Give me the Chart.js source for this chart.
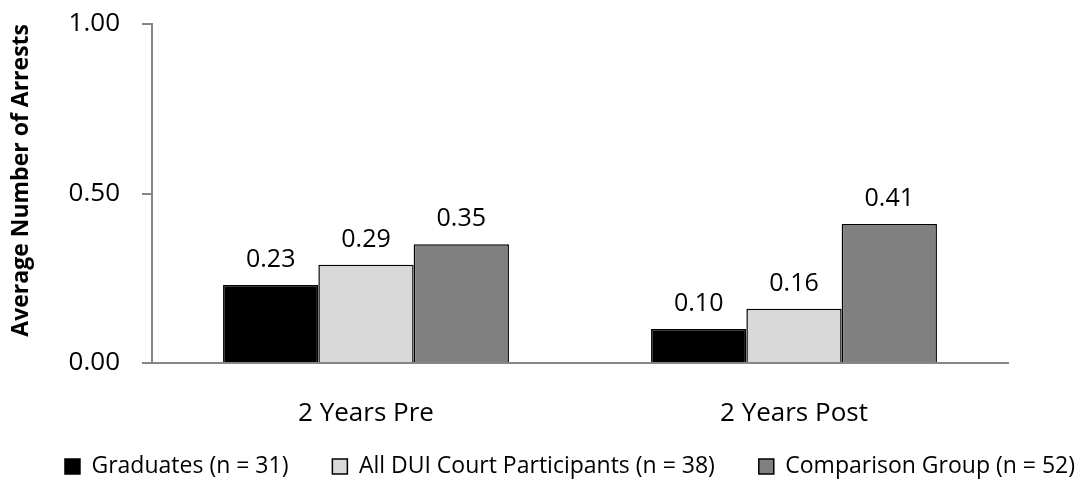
<!DOCTYPE html>
<html>
<head>
<style>
  body { margin: 0; background: #ffffff; }
</style>
<script src="https://cdn.jsdelivr.net/npm/chart.js@4/dist/chart.umd.min.js"></script>
<script type="text/javascript">

    var periods = ["2 Years Pre", "2 Years Post"];
    var seriesNames = ["Graduates (n = 31)", "All DUI Court Participants (n = 38)", "Comparison Group (n = 52)"];
    var graduates = [0.23, 0.10];
    var allParticipants = [0.29, 0.16];
    var comparison = [0.35, 0.41];
    var yTicks = [0, 0.5, 1];

    var barCol = ["#000000", "#d9d9d9", "#808080"];
    var fontName = "'Open Sans', sans-serif";

    // writes the value above every bar
    var valueLabels = {
        id: 'valueLabels',
        afterDatasetsDraw: function(chart) {
            var ctx = chart.ctx;
            ctx.save();
            ctx.font = "25px " + fontName;
            ctx.fillStyle = "#000000";
            ctx.textAlign = "center";
            ctx.textBaseline = "alphabetic";
            chart.data.datasets.forEach(function(ds, i) {
                chart.getDatasetMeta(i).data.forEach(function(bar, j) {
                    ctx.fillText(ds.data[j].toFixed(2), bar.x, bar.y - 18);
                });
            });
            ctx.restore();
        }
    };

    function drawChart()
    {
        var data = {
            labels: periods,
            datasets: [
                { label: seriesNames[0], data: graduates, backgroundColor: barCol[0], borderColor: "#000000", borderWidth: 1.5 },
                { label: seriesNames[1], data: allParticipants, backgroundColor: barCol[1], borderColor: "#000000", borderWidth: 1.5 },
                { label: seriesNames[2], data: comparison, backgroundColor: barCol[2], borderColor: "#000000", borderWidth: 1.5 }
            ]
        };

        var config = {
            type: 'bar',
            data: data,
            plugins: [valueLabels],
            options: {
                responsive: false,
                animation: false,
                layout: { padding: { top: 24, right: -61, bottom: 0, left: 0 } },
                datasets: { bar: { categoryPercentage: 0.668, barPercentage: 1.0 } },
                plugins: {
                    legend: {
                        position: 'bottom',
                        maxHeight: 53,
                        labels: {
                            boxWidth: 15,
                            boxHeight: 15,
                            padding: 26,
                            color: '#000000',
                            font: { family: fontName, size: 23 },
                            generateLabels: function(chart) {
                                var items = Chart.defaults.plugins.legend.labels.generateLabels(chart);
                                items.forEach(function(it, i) {
                                    if (i < items.length - 1) it.text = it.text + '\u00a0\u00a0\u00a0';
                                });
                                return items;
                            }
                        }
                    },
                    tooltip: { enabled: false }
                },
                scales: {
                    x: {
                        grid: { display: false, drawTicks: false },
                        border: { color: '#868686', width: 2 },
                        ticks: { padding: 35, color: '#000000', font: { family: fontName, size: 26 } },
                        afterFit: function(scale) { scale.height = 66; }
                    },
                    y: {
                        min: 0,
                        max: 1,
                        afterBuildTicks: function(scale) {
                            scale.ticks = yTicks.map(function(v) { return { value: v }; });
                        },
                        // long tick line, only its last 10px (next to the axis) visible
                        grid: {
                            drawOnChartArea: false,
                            drawTicks: true,
                            tickLength: 32,
                            tickBorderDash: [10, 22],
                            tickBorderDashOffset: 10,
                            color: '#868686',
                            lineWidth: 2
                        },
                        border: { color: '#868686', width: 2 },
                        ticks: {
                            padding: 0,
                            color: '#000000',
                            font: { family: fontName, size: 26 },
                            callback: function(v) { return v.toFixed(2); }
                        },
                        title: {
                            display: true,
                            align: 'end',
                            text: 'Average Number of Arrests',
                            color: '#000000',
                            padding: { top: 8, bottom: 0 },
                            font: { family: fontName, size: 23, weight: 'bold' }
                        },
                        afterFit: function(scale) { scale.width = 152; }
                    },
                    // empty space on the right so the legend can sit off-centre like the original
                    spacer: {
                        type: 'linear',
                        position: 'right',
                        grid: { display: false },
                        border: { display: false },
                        ticks: { display: false },
                        afterFit: function(scale) { scale.width = 132; }
                    }
                }
            }
        };

        new Chart(document.getElementById('arrests'), config);
    }
</script>
</head>
<body onload="drawChart()">
    <canvas id="arrests" width="1079" height="482"></canvas>
</body>
</html>
